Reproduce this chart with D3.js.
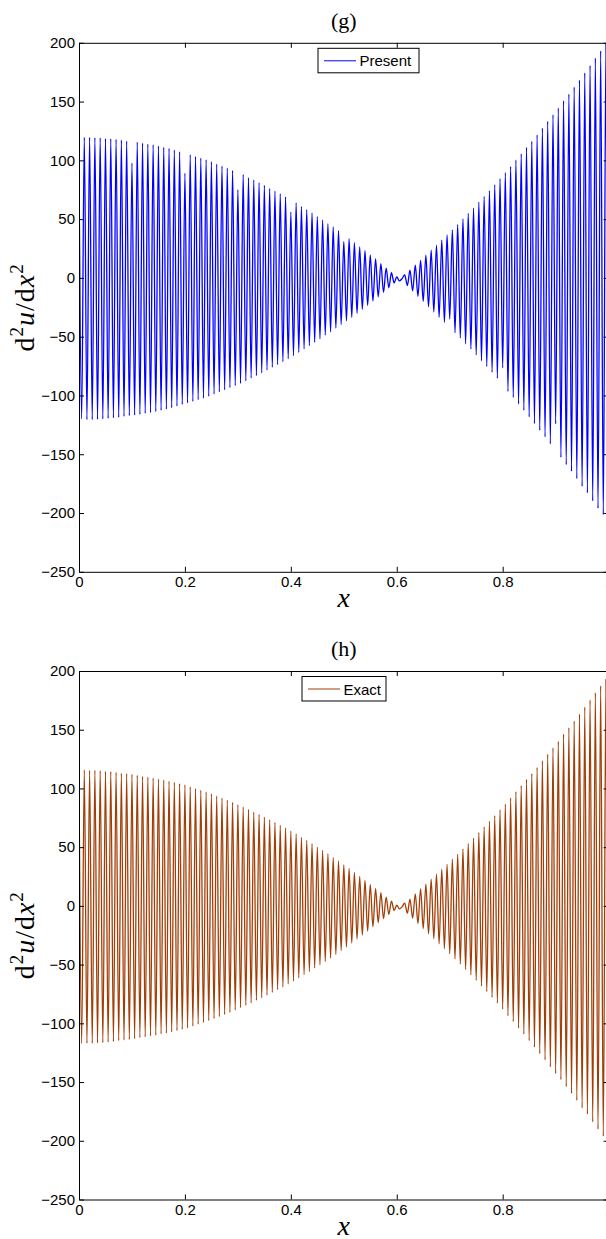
<!DOCTYPE html>
<html>
<head>
<meta charset="utf-8">
<script src="https://cdn.jsdelivr.net/npm/d3@7"></script>
<style>
  body { margin: 0; background: #fff; }
  svg { display: block; }
</style>
</head>
<body>
<svg id="chart"></svg>
<script>
// two stacked panels: (g) computed second derivative, (h) exact one

const xTicks = [0, 0.2, 0.4, 0.6, 0.8, 1];
const yTicks = [-250, -200, -150, -100, -50, 0, 50, 100, 150, 200];

// extrema, one every half period (x step 0.005)
const sampleStep = 0.005;

const presentValues = [
  100.0, -120.0, 119.5, -120.5, 119.5, -120.5, 119.4, -120.3, 119.2, -120.0,
  118.6, -119.5, 118.4, -119.1, 117.8, -118.6, 117.3, -117.9, 116.4, -117.2,
  97.7, -116.7, 115.5, -116.1, 114.7, -115.3, 113.8, -114.6, 113.3, -113.7,
  112.1, -112.6, 111.0, -111.6, 110.2, -110.5, 108.8, -109.1, 107.3, -107.7,
  88.9, -106.4, 104.8, -105.1, 103.3, -103.6, 101.9, -102.2, 100.5, -100.7,
  98.8, -98.8, 96.8, -97.0, 95.1, -95.3, 93.4, -93.4, 91.4, -91.6,
  75.0, -89.8, 88.0, -87.6, 85.2, -85.2, 83.2, -83.1, 81.0, -80.9,
  78.7, -78.4, 76.1, -76.0, 73.9, -73.8, 71.6, -71.3, 69.0, -68.8,
  56.0, -66.2, 63.9, -63.4, 60.8, -60.4, 58.0, -57.6, 55.2, -54.8,
  52.3, -51.8, 49.2, -48.7, 46.1, -45.8, 43.3, -42.7, 40.1, -39.6,
  31.0, -36.5, 33.3, -33.6, 29.9, -30.1, 26.3, -26.7, 23.1, -23.3,
  19.5, -19.8, 16.1, -16.1, 12.1, -12.3, 8.4, -8.4, 4.4, -4.2,
  0.8, -2.6, -0.6, 2.5, -6.5, 6.5, -11.0, 10.8, -15.6, 15.0,
  -20.0, 19.3, -24.5, 23.6, -29.0, 27.9, -33.4, 32.2, -37.8, 36.5,
  -35.0, 40.9, -46.6, 45.4, -51.2, 50.1, -56.0, 54.9, -60.6, 59.4,
  -65.5, 64.5, -70.5, 69.4, -75.3, 74.2, -80.3, 79.3, -85.4, 84.4,
  -76.5, 89.5, -96.5, 94.8, -101.6, 100.3, -107.2, 105.6, -112.6, 111.0,
  -118.3, 116.1, -124.0, 121.7, -129.7, 127.4, -135.3, 133.1, -141.3, 138.8,
  -124.2, 144.5, -152.6, 150.7, -158.8, 156.3, -164.5, 162.3, -170.7, 168.3,
  -177.3, 174.5, -182.9, 180.7, -189.7, 187.0, -196.0, 193.2, -201.3, 199.5,
  -174.0
];

const exactValues = [
  115.7, -117.2, 115.7, -117.0, 115.4, -116.9, 115.4, -116.7, 115.1, -116.4,
  114.6, -116.0, 114.3, -115.5, 113.7, -114.8, 112.8, -114.2, 112.5, -113.8,
  112.0, -113.1, 111.1, -112.2, 110.3, -111.5, 109.7, -110.8, 108.9, -110.0,
  108.0, -109.1, 107.2, -108.3, 106.3, -107.3, 105.2, -106.2, 104.1, -105.2,
  103.2, -103.9, 101.5, -102.3, 100.0, -100.8, 98.5, -99.3, 97.0, -97.7,
  95.4, -96.0, 93.6, -94.3, 91.9, -92.5, 90.1, -90.7, 88.2, -88.7,
  86.1, -86.7, 84.2, -84.7, 82.2, -82.6, 79.9, -80.4, 77.9, -78.3,
  75.6, -76.0, 73.3, -73.7, 71.0, -71.3, 68.6, -69.0, 66.3, -66.5,
  63.7, -64.0, 61.2, -61.3, 58.3, -58.6, 55.8, -55.9, 52.9, -53.0,
  50.1, -50.2, 47.3, -47.4, 44.4, -44.4, 41.3, -41.3, 38.2, -38.1,
  35.0, -35.0, 31.9, -31.7, 28.5, -28.3, 25.1, -24.9, 21.7, -21.4,
  18.0, -17.8, 14.6, -14.4, 11.2, -10.9, 7.5, -7.3, 4.1, -3.9,
  0.7, -2.6, -0.8, 2.4, -6.2, 5.8, -10.5, 10.3, -15.0, 14.5,
  -19.3, 18.6, -23.7, 22.8, -28.0, 27.0, -32.3, 31.2, -36.6, 35.4,
  -40.8, 39.7, -45.2, 44.0, -49.6, 48.6, -54.3, 53.2, -58.8, 57.6,
  -63.5, 62.5, -68.4, 67.3, -73.0, 72.0, -77.9, 76.9, -82.8, 81.9,
  -88.0, 86.8, -93.6, 92.0, -98.6, 97.3, -104.0, 102.4, -109.2, 107.7,
  -114.8, 112.6, -120.3, 118.0, -125.8, 123.6, -131.2, 129.1, -137.1, 134.6,
  -142.8, 140.2, -148.0, 146.2, -154.0, 151.6, -159.6, 157.4, -165.6, 163.3,
  -172.0, 169.3, -177.4, 175.3, -184.0, 181.4, -190.1, 187.4, -196.0, 193.0,
  -200.0
];

const width = 606, height = 1239;
const sansFont = "'Liberation Sans', Arial, Helvetica, sans-serif";
const serifFont = "'Liberation Serif', 'Times New Roman', serif";

const panels = [
  {id: "g", title: "(g)", name: "Present", values: presentValues, color: "#0000ff", top: 42.8, bottom: 571.8, legendX: 318, legendW: 101},
  {id: "h", title: "(h)", name: "Exact", values: exactValues, color: "#a33d06", top: 671, bottom: 1199.5, legendX: 302, legendW: 84}
];

const left = 79, right = 608.6;

const svg = d3.select("#chart")
	.attr("width", width)
	.attr("height", height);

let x = d3.scaleLinear().domain([0, 1]).range([left, right]);

function fmt(d){
	return d < 0 ? "\u2212" + Math.abs(d) : String(d);
}

panels.forEach(function(p){
	let y = d3.scaleLinear().domain([-250, 200]).range([p.bottom, p.top]);
	let g = svg.append("g");

	g.append("clipPath").attr("id", "clip-" + p.id)
		.append("rect")
		.attr("x", left).attr("y", p.top)
		.attr("width", right - left).attr("height", p.bottom - p.top);

	let points = p.values.map((v, i) => ({x: i * sampleStep, y: v}));
	let line = d3.line()
		.x(d => x(d.x))
		.y(d => y(d.y))
		.curve(d3.curveMonotoneX);

	g.append("path")
		.datum(points)
		.attr("clip-path", "url(#clip-" + p.id + ")")
		.attr("d", line)
		.attr("fill", "none")
		.attr("stroke", p.color)
		.attr("stroke-width", 1.3);

	// axes, ticks pointing inwards like matlab
	let bottomAxis = d3.axisBottom(x).tickValues(xTicks).tickSize(-5).tickSizeOuter(0).tickPadding(5).tickFormat(fmt);
	let topAxis = d3.axisTop(x).tickValues(xTicks).tickSize(-5).tickSizeOuter(0).tickFormat("");
	let leftAxis = d3.axisLeft(y).tickValues(yTicks).tickSize(-5).tickSizeOuter(0).tickPadding(4).tickFormat(fmt);
	let rightAxis = d3.axisRight(y).tickValues(yTicks).tickSize(-5).tickSizeOuter(0).tickFormat("");

	let axes = [
		g.append("g").attr("transform", "translate(0," + p.bottom + ")").call(bottomAxis),
		g.append("g").attr("transform", "translate(0," + p.top + ")").call(topAxis),
		g.append("g").attr("transform", "translate(" + left + ",0)").call(leftAxis),
		g.append("g").attr("transform", "translate(" + right + ",0)").call(rightAxis)
	];
	axes.forEach(a => {
		a.selectAll(".domain").attr("stroke", "#000").attr("stroke-width", 1);
		a.selectAll(".tick line").attr("stroke", "#000").attr("stroke-width", 1);
		a.selectAll("text")
			.attr("fill", "#000")
			.style("font-family", sansFont)
			.style("font-size", "15px");
	});

	// title
	g.append("text")
		.attr("x", (left + right) / 2)
		.attr("y", p.top - 15)
		.attr("text-anchor", "middle")
		.style("font-family", serifFont)
		.style("font-size", "22px")
		.text(p.title);

	// x label
	g.append("text")
		.attr("x", (left + right) / 2)
		.attr("y", p.bottom + 35)
		.attr("text-anchor", "middle")
		.style("font-family", serifFont)
		.style("font-style", "italic")
		.style("font-size", "28px")
		.text("x");

	// y label d^2u/dx^2
	let yl = g.append("text")
		.attr("transform", "translate(34," + ((p.top + p.bottom) / 2) + ") rotate(-90)")
		.attr("text-anchor", "middle")
		.style("font-family", serifFont)
		.style("font-size", "28px")
		.style("letter-spacing", "1px");
	yl.append("tspan").text("d");
	yl.append("tspan").attr("dy", -11).style("font-size", "19px").text("2");
	yl.append("tspan").attr("dy", 11).style("font-style", "italic").text("u");
	yl.append("tspan").text("/d");
	yl.append("tspan").style("font-style", "italic").text("x");
	yl.append("tspan").attr("dy", -11).style("font-size", "19px").text("2");

	// legend box
	let lg = g.append("g").attr("transform", "translate(" + p.legendX + "," + (p.top + 5.5) + ")");
	lg.append("rect")
		.attr("width", p.legendW).attr("height", 24.5)
		.attr("fill", "#fff").attr("stroke", "#000").attr("stroke-width", 1);
	lg.append("line")
		.attr("x1", 6).attr("x2", 38).attr("y1", 12.5).attr("y2", 12.5)
		.attr("stroke", p.color).attr("stroke-width", 1);
	lg.append("text")
		.attr("x", 41.5).attr("y", 18)
		.style("font-family", sansFont)
		.style("font-size", "15px")
		.text(p.name);
});
</script>
</body>
</html>
